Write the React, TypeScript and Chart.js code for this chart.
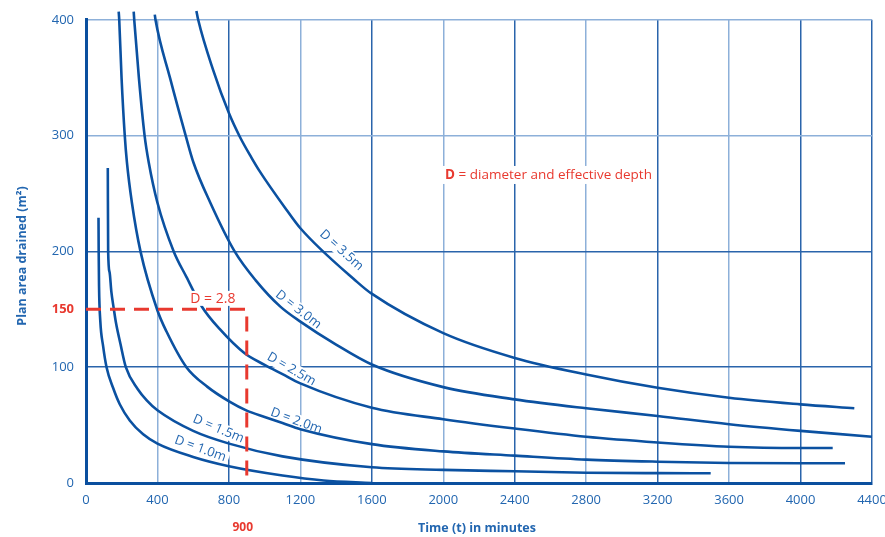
import React, { useEffect, useRef } from "react";
import { Chart, registerables } from "chart.js";

Chart.register(...registerables);

const FONT = '"Open Sans", "Noto Sans", sans-serif';
const LINE_BLUE = "#0b51a1";
const TEXT_BLUE = "#2266b0";
const AXIS_BLUE = "#0a4f9e";
const GRID_DARK = "#2a64ab";
const GRID_LIGHT = "#8db0d9";
const RED = "#e8392f";

// Axis ticks
const xTicks = [0, 400, 800, 1200, 1600, 2000, 2400, 2800, 3200, 3600, 4000, 4400];
const yTicks = [0, 100, 150, 200, 300, 400];

// Curves: time (min) and plan area drained (m²)
const d10T = [70, 71, 73, 80, 96, 115, 152, 189, 245, 320, 400, 600, 800, 1100, 1330, 1600];
const d10A = [229, 200, 170, 140, 118, 100, 82, 68, 54, 42, 34, 22.5, 14.5, 6.5, 2.2, 0];

const d15T = [122, 124, 132, 142, 155, 167, 193, 223, 290, 340, 400, 600, 801, 1100, 1600, 2000, 2400, 2800, 3200, 3497];
const d15A = [272, 200, 182, 165, 151, 139, 120, 100, 81, 71.4, 62.8, 45, 34, 23, 13.6, 11.3, 10.1, 8.9, 8.5, 8.4];

const d20T = [183, 186, 199, 217, 229, 257, 305, 400, 450, 562, 680, 801, 900, 1000, 1100, 1200, 1600, 2000, 2400, 2800, 3200, 3600, 4000, 4249];
const d20A = [407, 400, 350, 300, 277, 242, 200, 149, 131, 100, 83, 70.5, 62.5, 57, 51.8, 46.5, 33.6, 27.3, 23.6, 20.2, 18.4, 17.3, 17, 17];

const d25T = [267, 270, 296, 328, 351, 400, 491, 562, 650, 748, 888, 1000, 1100, 1200, 1600, 2000, 2400, 2800, 3200, 3600, 4000, 4180];
const d25A = [407, 400, 350, 300, 277, 242, 200, 178, 152, 133, 112, 102, 94, 86, 65, 55.1, 47, 39.9, 35, 31.3, 30.2, 30.2];

const d30T = [385, 389, 470, 558, 601, 696, 832, 950, 1088, 1200, 1400, 1600, 2000, 2400, 2800, 3200, 3600, 4000, 4400, 4472];
const d30A = [404.5, 400, 350, 300, 277, 242, 200, 175, 152.3, 139.4, 119.5, 102.3, 82.8, 72.2, 64.5, 57.9, 50.8, 45, 39.9, 38.8];

const d35T = [618, 628, 711, 801, 861, 926, 969, 1122, 1200, 1517, 1597, 2000, 2400, 2800, 3200, 3600, 4000, 4301];
const d35A = [407.7, 400, 357, 319, 299, 281, 270, 236, 220, 173.7, 163.7, 129.4, 108, 93.7, 82.2, 73.6, 67.9, 64.5];

// Worked example (D = 2.8): 150 m² at 900 minutes
const exampleT = [0, 900, 900];
const exampleA = [150, 150, 0];

// Curve labels
const curveLabels = ["D = 1.0m", "D = 1.5m", "D = 2.0m", "D = 2.5m", "D = 3.0m", "D = 3.5m"];
const curveLabelT = [640, 741, 1177, 1150, 1189, 1430];
const curveLabelA = [29.6, 46.8, 53.6, 98.3, 149.7, 201];
const curveLabelAngle = [20, 23, 20, 30, 38, 42];

const toPts = (t: number[], a: number[]) => t.map((v, i) => ({ x: v, y: a[i] }));

const LABEL_FONT = `13px ${FONT}`;

const annotPlugin = {
  id: "annot",
  beforeDatasetsDraw(chart: any) {
    const { ctx, scales } = chart;
    const x = scales.x, y = scales.y;
    ctx.save();
    ctx.font = LABEL_FONT;
    curveLabels.forEach((txt, i) => {
      const px = x.getPixelForValue(curveLabelT[i]);
      const py = y.getPixelForValue(curveLabelA[i]);
      const w = ctx.measureText(txt).width;
      ctx.save();
      ctx.translate(px, py);
      ctx.rotate((curveLabelAngle[i] * Math.PI) / 180);
      ctx.fillStyle = "#ffffff";
      ctx.fillRect(-w / 2 - 3, -7, w + 6, 14);
      ctx.restore();
    });
    ctx.restore();
  },
  afterDatasetsDraw(chart: any) {
    const { ctx, scales, chartArea } = chart;
    const x = scales.x, y = scales.y;
    ctx.save();
    // curve labels
    ctx.font = LABEL_FONT;
    ctx.fillStyle = TEXT_BLUE;
    ctx.textAlign = "center";
    ctx.textBaseline = "middle";
    curveLabels.forEach((txt, i) => {
      const px = x.getPixelForValue(curveLabelT[i]);
      const py = y.getPixelForValue(curveLabelA[i]);
      ctx.save();
      ctx.translate(px, py);
      ctx.rotate((curveLabelAngle[i] * Math.PI) / 180);
      ctx.fillText(txt, 0, 0);
      ctx.restore();
    });

    // D = 2.8 label
    ctx.font = `14px ${FONT}`;
    const ex = x.getPixelForValue(710);
    const ey = y.getPixelForValue(159);
    const ew = ctx.measureText("D = 2.8").width;
    ctx.fillStyle = "#ffffff";
    ctx.fillRect(ex - ew / 2 - 3, ey - 8, ew + 6, 15);
    ctx.fillStyle = RED;
    ctx.fillText("D = 2.8", ex, ey);

    // legend note
    const lx = x.getPixelForValue(2010);
    const ly = y.getPixelForValue(266);
    ctx.textAlign = "left";
    ctx.font = `bold 13.5px ${FONT}`;
    const w1 = ctx.measureText("D").width;
    ctx.font = `13.5px ${FONT}`;
    const rest = " = diameter and effective depth";
    const w2 = ctx.measureText(rest).width;
    ctx.fillStyle = "#ffffff";
    ctx.fillRect(lx - 5, ly - 9, w1 + w2 + 10, 18);
    ctx.fillStyle = RED;
    ctx.font = `bold 13.5px ${FONT}`;
    ctx.fillText("D", lx, ly);
    ctx.font = `13.5px ${FONT}`;
    ctx.fillText(rest, lx + w1, ly);

    // 900 marker under axis
    ctx.textAlign = "center";
    ctx.font = `bold 12px ${FONT}`;
    ctx.fillStyle = RED;
    ctx.fillText("900", x.getPixelForValue(900) - 4, 528);

    // axis titles
    ctx.fillStyle = TEXT_BLUE;
    ctx.font = `bold 12.5px ${FONT}`;
    ctx.fillText("Time (t) in minutes", (chartArea.left + chartArea.right) / 2 - 2, 528);
    ctx.save();
    ctx.translate(22, 256);
    ctx.rotate(-Math.PI / 2);
    ctx.fillText("Plan area drained (m²)", 0, 0);
    ctx.restore();

    ctx.restore();
  },
};

export default function App() {
  const ref = useRef<HTMLCanvasElement | null>(null);
  useEffect(() => {
    document.body.style.margin = "0";
    const canvas = ref.current;
    if (!canvas) return;
    const curve = (t: number[], a: number[]) => ({
      data: toPts(t, a),
      borderColor: LINE_BLUE,
      borderWidth: 2.6,
      pointRadius: 0,
      cubicInterpolationMode: "monotone",
      capBezierPoints: false,
      clip: false as any,
      fill: false,
      order: 1,
    });
    const chart = new Chart(canvas, {
      type: "line",
      data: {
        datasets: [
          {
            data: toPts(exampleT, exampleA),
            borderColor: RED,
            borderWidth: 3,
            borderDash: [15, 9],
            pointRadius: 0,
            tension: 0,
            fill: false,
            order: 0,
          } as any,
          curve(d10T, d10A),
          curve(d15T, d15A),
          curve(d20T, d20A),
          curve(d25T, d25A),
          curve(d30T, d30A),
          curve(d35T, d35A),
        ],
      },
      options: {
        responsive: false,
        animation: false,
        events: [],
        layout: { padding: { top: 17, right: 0, left: 0, bottom: 0 } },
        plugins: { legend: { display: false }, tooltip: { enabled: false } },
        scales: {
          x: {
            type: "linear",
            min: 0,
            max: 4400,
            afterBuildTicks: (s: any) => {
              s.ticks = xTicks.map((v) => ({ value: v }));
            },
            afterFit: (s: any) => {
              s.height = 54;
              s.paddingRight = 13;
              s.paddingLeft = 4;
            },
            ticks: {
              color: TEXT_BLUE,
              font: { family: FONT, size: 13 },
              padding: 9,
              maxRotation: 0,
              autoSkip: false,
              callback: (v: any) => String(v),
            },
            grid: {
              drawTicks: false,
              lineWidth: 1.5,
              color: (c: any) => {
                const v = c.tick ? c.tick.value : 0;
                return v % 800 === 0 || v === 4400 ? GRID_DARK : GRID_LIGHT;
              },
            },
            border: { color: AXIS_BLUE, width: 3 },
          },
          y: {
            type: "linear",
            min: 0,
            max: 400,
            afterBuildTicks: (s: any) => {
              s.ticks = yTicks.map((v) => ({ value: v }));
            },
            afterFit: (s: any) => {
              s.width = 86;
            },
            ticks: {
              color: (c: any) => (c.tick && c.tick.value === 150 ? RED : TEXT_BLUE),
              font: (c: any) => ({
                family: FONT,
                size: 13,
                weight: c.tick && c.tick.value === 150 ? "bold" : "normal",
              }),
              padding: 12,
              callback: (v: any) => String(v),
            },
            grid: {
              drawTicks: false,
              lineWidth: 1.5,
              color: (c: any) => {
                const v = c.tick ? c.tick.value : 0;
                if (v === 150) return "rgba(0,0,0,0)";
                return v <= 200 ? GRID_DARK : GRID_LIGHT;
              },
            },
            border: { color: AXIS_BLUE, width: 3 },
          },
        },
      } as any,
      plugins: [annotPlugin],
    });
    return () => chart.destroy();
  }, []);
  return (
    <div style={{ width: 885, height: 537 }}>
      <canvas ref={ref} width={885} height={537} style={{ display: "block" }} />
    </div>
  );
}
